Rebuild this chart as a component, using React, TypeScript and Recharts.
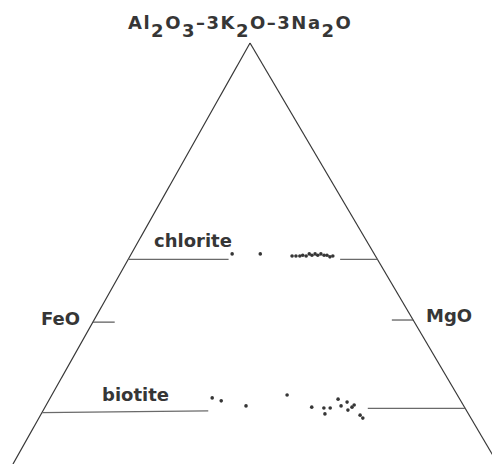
import { ScatterChart, Scatter, XAxis, YAxis, ReferenceLine } from "recharts"

// ternary compositions in percent: al = Al2O3-3K2O-3Na2O apex, mg = MgO corner, FeO is the rest
const chloriteAl = [49.9, 49.9, 49.4, 49.4, 49.4, 49.6, 49.4, 49.9, 49.6, 49.9, 49.6, 49.9, 49.6, 49.6, 49.2, 49.4]
const chloriteMg = [20.8, 26.6, 33.4, 34.2, 35.0, 35.5, 36.3, 36.7, 37.4, 37.9, 38.6, 39.1, 39.9, 40.5, 41.3, 41.8]
const biotiteAl = [15.7, 15.0, 13.8, 16.4, 13.5, 13.3, 13.3, 11.9, 15.4, 13.8, 14.7, 12.8, 13.5, 14.0, 11.6, 10.9]
const biotiteMg = [33.4, 35.6, 41.3, 48.5, 55.0, 57.6, 58.9, 58.5, 59.5, 60.9, 61.7, 62.8, 63.3, 63.5, 65.9, 66.8]

// triangle sides, apex down to the two base corners
const edges = [
  [{ al: 100, mg: 0 }, { al: 0, mg: 0 }],
  [{ al: 100, mg: 0 }, { al: 0, mg: 100 }],
]

// tie lines of the two minerals (left and right part) and the side ticks
const tieLines = [
  [{ al: 48.6, mg: 0 }, { al: 48.6, mg: 20.7 }],
  [{ al: 48.6, mg: 43.7 }, { al: 48.6, mg: 51.4 }],
  [{ al: 12.2, mg: 0 }, { al: 12.6, mg: 34.1 }],
  [{ al: 13.2, mg: 66.7 }, { al: 13.2, mg: 86.8 }],
]
const sideTicks = [
  [{ al: 33.7, mg: 0 }, { al: 33.7, mg: 4.5 }],
  [{ al: 34.2, mg: 61.4 }, { al: 34.2, mg: 65.8 }],
]

const APEX_X = 0.4887
const toXY = (al: number, mg: number) => ({ x: mg / 100 + (APEX_X * al) / 100, y: al / 100 })

const chlorite = chloriteAl.map((al, i) => toXY(al, chloriteMg[i]))
const biotite = biotiteAl.map((al, i) => toXY(al, biotiteMg[i]))

const INK = "#363636"
const font = { fontFamily: "DejaVu Sans", fontWeight: 700, fontSize: 18, fill: INK }

const dot = (p: any) => <circle cx={p.cx} cy={p.cy} r={1.8} fill={INK} />

const seg = (s: { al: number; mg: number }[], key: string, stroke: string, width: number) => (
  <ReferenceLine
    key={key}
    segment={s.map((p) => toXY(p.al, p.mg))}
    stroke={stroke}
    strokeWidth={width}
    ifOverflow="hidden"
  />
)

export default function App() {
  return (
    <div style={{ position: "absolute", left: 0, top: 0, width: 492, height: 464, background: "#fff" }}>
      <ScatterChart width={492} height={464} margin={{ top: 0, right: 0, bottom: 0, left: 0 }}>
        <XAxis type="number" dataKey="x" domain={[-13 / 485, 479 / 485]} allowDataOverflow hide />
        <YAxis type="number" dataKey="y" domain={[0, 464 / 421]} allowDataOverflow hide />
        {edges.map((s, i) => seg(s, "e" + i, INK, 1.2))}
        {tieLines.map((s, i) => seg(s, "t" + i, "#6a6a6a", 1.3))}
        {sideTicks.map((s, i) => seg(s, "k" + i, "#555", 1.2))}
        <Scatter data={chlorite} shape={dot} isAnimationActive={false} />
        <Scatter data={biotite} shape={dot} isAnimationActive={false} />
        <text x={128} y={28.5} {...font} letterSpacing={1.5}>
          Al<tspan dy={8}>2</tspan>
          <tspan dy={-8}>O</tspan>
          <tspan dy={8}>3</tspan>
          <tspan dy={-8}>–3K</tspan>
          <tspan dy={8}>2</tspan>
          <tspan dy={-8}>O–3Na</tspan>
          <tspan dy={8}>2</tspan>
          <tspan dy={-8}>O</tspan>
        </text>
        <text x={154} y={247} {...font}>chlorite</text>
        <text x={102} y={401} {...font}>biotite</text>
        <text x={41} y={325} {...font}>FeO</text>
        <text x={426} y={322} {...font}>MgO</text>
      </ScatterChart>
    </div>
  )
}
